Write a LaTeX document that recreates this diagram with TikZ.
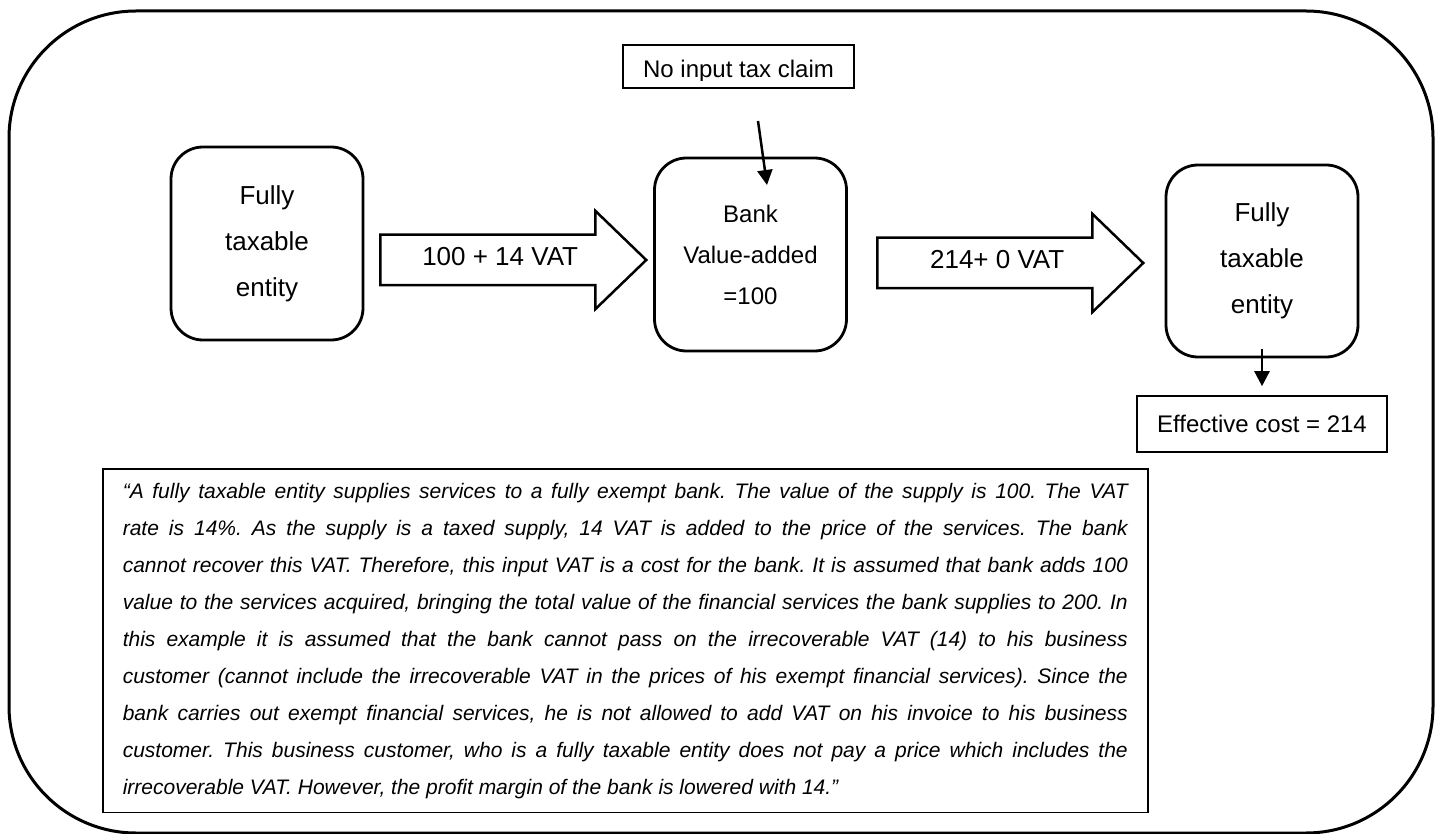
\documentclass[tikz,border=0pt]{standalone}
\usepackage{fontspec}
\setmainfont{Liberation Sans}
\usepackage{tikz}
\usetikzlibrary{positioning, shapes.arrows, arrows.meta}
\frenchspacing

\begin{document}
\begin{tikzpicture}[x=1pt, y=-1pt, on grid,
    entity/.style={draw, rounded corners=32pt, line width=2.8pt, minimum width=192pt, minimum height=193pt, align=center, font=\fontsize{26}{46}\selectfont},
    flow/.style={draw, single arrow, line width=2.5pt, single arrow head extend=24pt, single arrow tip angle=88, minimum height=266pt, inner sep=0pt, text height=30pt, text depth=18pt, font=\fontsize{26}{30}\selectfont},
    plainbox/.style={draw, line width=1.6pt, inner sep=0pt},
    pointer/.style={line width=2.5pt, -{Triangle[width=15pt, length=15pt]}},
    note/.style={draw, line width=1.6pt, text width=1005pt, inner xsep=20pt, inner ysep=14pt, align=justify, font=\fontsize{21}{37}\selectfont\itshape}]
        \useasboundingbox (0,0) rectangle (1438,834);
        \draw[line width=3pt, rounded corners=127pt] (9,11) rectangle (1433,833);

        \node[entity] (ent1) at (267,243.5) {Fully\\taxable\\entity};
        \node[entity, right=483.5pt of ent1, yshift=-11pt, font=\fontsize{24}{41}\selectfont] (bank) {Bank\\Value-added\\=100};
        \node[entity, right=511.5pt of bank, yshift=-6.5pt, minimum height=192pt] (ent2) {Fully\\taxable\\entity};
        \node[plainbox, above=188pt of bank, xshift=-12pt, minimum width=231pt, minimum height=43pt] (claim) {};
        \node[plainbox, below=163pt of ent2, minimum width=250pt, minimum height=56pt, font=\fontsize{24}{28}\selectfont] (cost) {Effective cost = 214};
        \begin{scope}
            \clip (claim.north west) rectangle ([yshift=8pt]claim.south east);
            \node[anchor=base, font=\fontsize{24}{28}\selectfont] (claimtext) at ([yshift=11pt]claim.south) {No input tax claim};
        \end{scope}

        \node[flow, anchor=tail] (vat1) at (379,260) {100 + 14 VAT};
        \node[flow, anchor=tail] (vat2) at (876,263) {214+ 0 VAT};

        \coordinate (claimtail) at (758,121);
        \coordinate (claimtip) at (767,185);
        \path
        (claimtail) edge[pointer] (claimtip)
        ([yshift=9pt]ent2.south) edge[pointer] ([yshift=9pt]cost.north);

        \node[note, anchor=north west] (story) at (102,468) {\noindent\tolerance=10000
“A fully taxable entity supplies services to a fully exempt bank. The value of the supply is 100. The VAT\linebreak
rate is 14\%. As the supply is a taxed supply, 14 VAT is added to the price of the services. The bank\linebreak
cannot recover this VAT. Therefore, this input VAT is a cost for the bank. It is assumed that bank adds 100\linebreak
value to the services acquired, bringing the total value of the financial services the bank supplies to 200. In\linebreak
this example it is assumed that the bank cannot pass on the irrecoverable VAT (14) to his business\linebreak
customer (cannot include the irrecoverable VAT in the prices of his exempt financial services). Since the\linebreak
bank carries out exempt financial services, he is not allowed to add VAT on his invoice to his business\linebreak
customer. This business customer, who is a fully taxable entity does not pay a price which includes the\linebreak
irrecoverable VAT. However, the profit margin of the bank is lowered with 14.”};
\end{tikzpicture}
\end{document}
